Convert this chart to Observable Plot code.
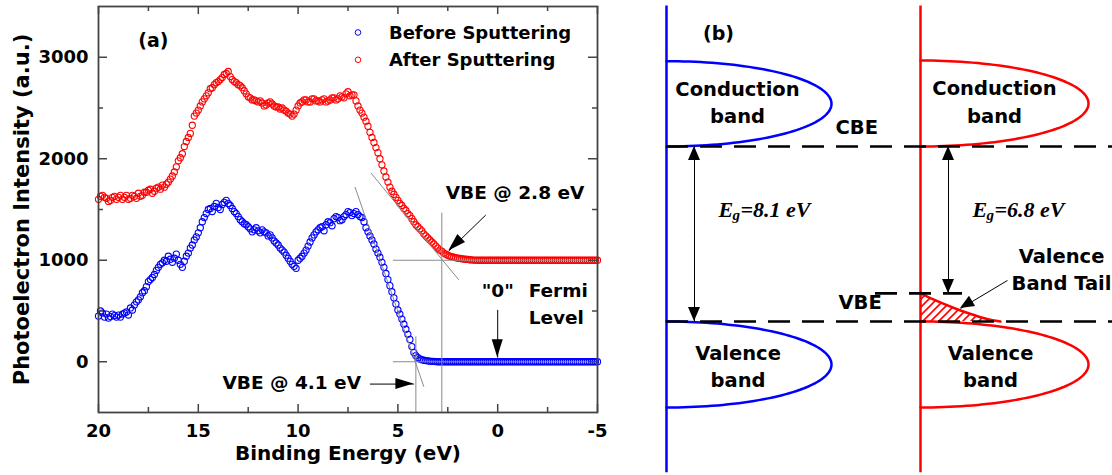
<!DOCTYPE html>
<html><head><meta charset="utf-8">
<script src="https://cdn.jsdelivr.net/npm/d3@7"></script>
<script src="https://cdn.jsdelivr.net/npm/@observablehq/plot@0.6"></script>
<style>
html,body{margin:0;padding:0;background:#fff;}
#wrap{display:flex;width:1112px;height:475px;overflow:hidden;}
</style></head><body><div id="wrap"></div>
<script>
// ---------- DATA: panel (a) ----------
const seriesNames = ["Before Sputtering", "After Sputtering"];
// intensity read every 0.1 eV from 20.0 eV down to -5.0 eV
const before = [
 450,500,480,440,470,430,445,470,455,440,
 460,440,470,480,490,460,530,510,560,590,
 610,640,680,700,740,790,810,830,860,900,
 930,960,975,1000,990,1040,1010,980,1020,1060,
 1000,960,930,990,1040,1070,1120,1150,1200,1230,
 1270,1320,1380,1420,1460,1500,1510,1480,1530,1560,
 1520,1500,1550,1570,1590,1560,1540,1510,1480,1460,
 1430,1400,1380,1360,1350,1330,1310,1280,1300,1320,
 1290,1270,1300,1280,1270,1240,1250,1220,1190,1170,
 1150,1120,1100,1080,1050,1020,990,960,940,920,
 1000,1020,1040,1070,1100,1140,1180,1220,1250,1280,
 1300,1320,1330,1290,1350,1380,1370,1340,1410,1430,
 1420,1390,1400,1430,1450,1480,1470,1440,1460,1480,
 1450,1430,1420,1380,1320,1280,1240,1200,1160,1110,
 1070,1030,980,930,870,810,750,690,630,570,
 510,470,420,370,320,270,220,150,90,60,
 40,28,20,15,12,9,6,4,3,2,
 0,0,0,0,0,0,0,0,0,0,
 0,0,0,0,0,0,0,0,0,0,
 0,0,0,0,0,0,0,0,0,0,
 0,0,0,0,0,0,0,0,0,0,
 0,0,0,0,0,0,0,0,0,0,
 0,0,0,0,0,0,0,0,0,0,
 0,0,0,0,0,0,0,0,0,0,
 0,0,0,0,0,0,0,0,0,0,
 0
];
const after = [
 1600,1630,1640,1620,1610,1580,1590,1620,1630,1600,
 1620,1640,1600,1620,1640,1600,1610,1640,1630,1610,
 1660,1630,1640,1670,1670,1690,1700,1660,1680,1710,
 1720,1700,1740,1720,1750,1770,1800,1830,1870,1920,
 1980,2010,2050,2120,2170,2210,2250,2330,2420,2450,
 2480,2520,2560,2590,2620,2650,2690,2700,2730,2750,
 2760,2780,2800,2830,2840,2860,2810,2780,2760,2750,
 2730,2720,2700,2670,2640,2610,2600,2580,2580,2570,
 2560,2570,2550,2520,2530,2550,2560,2540,2520,2510,
 2510,2490,2500,2480,2470,2450,2440,2420,2440,2480,
 2520,2550,2560,2580,2580,2560,2560,2590,2590,2570,
 2570,2560,2580,2590,2560,2570,2580,2600,2600,2580,
 2590,2620,2610,2600,2640,2660,2620,2630,2630,2570,
 2520,2480,2450,2410,2370,2320,2260,2210,2160,2110,
 2060,2000,1940,1880,1820,1770,1720,1680,1650,1620,
 1590,1560,1540,1510,1490,1460,1440,1410,1380,1350,
 1330,1310,1290,1260,1240,1220,1200,1180,1160,1140,
 1120,1100,1090,1070,1060,1050,1040,1035,1030,1025,
 1020,1018,1015,1012,1010,1008,1005,1003,1002,1001,
 1000,1000,1000,1000,1000,1000,1000,1000,1000,1000,
 1000,1000,1000,1000,1000,1000,1000,1000,1000,1000,
 1000,1000,1000,1000,1000,1000,1000,1000,1000,1000,
 1000,1000,1000,1000,1000,1000,1000,1000,1000,1000,
 1000,1000,1000,1000,1000,1000,1000,1000,1000,1000,
 1000,1000,1000,1000,1000,1000,1000,1000,1000,1000,
 1000
];
const energy = before.map((_, i) => Math.round(200 - i) / 10);
const xTicks = [20, 15, 10, 5, 0, -5];
const xMinorTicks = [17.5, 12.5, 7.5, 2.5, -2.5];
const yTicks = [0, 1000, 2000, 3000];
const yMinorTicks = [500, 1500, 2500];
const vbeValues = ["2.8", "4.1"];
// guide lines (eV, intensity)
const guides = [
 {x1: 5.25, y1: 1000, x2: -5, y2: 1000},
 {x1: 5.25, y1: 0, x2: -5, y2: 0},
 {x1: 2.8, y1: 1470, x2: 2.8, y2: -500},
 {x1: 4.1, y1: 250, x2: 4.1, y2: -500},
 {x1: 6.35, y1: 1860, x2: 1.95, y2: 807},
 {x1: 7.15, y1: 1722, x2: 3.7, y2: -246}
];
const arrowsA = [
 {x1: 0.6, y1: 1445, x2: 2.45, y2: 1091},
 {x1: 6.4, y1: -220, x2: 4.2, y2: -220},
 {x1: 0, y1: 511, x2: 0, y2: 40}
];

// ---------- DATA: panel (b) ----------
const gapValues = ["8.1", "6.8"];
const bandLabels = ["Conduction", "band", "Valence", "band"];
const bands = [
 {id: "cb1", color: "#0000ff", x0: 54, rx: 165, top: 12.05, bottom: 8.1},
 {id: "vb1", color: "#0000ff", x0: 54, rx: 165, top: 0, bottom: -3.98},
 {id: "cb2", color: "#ff0000", x0: 308, rx: 168, top: 12.08, bottom: 8.1},
 {id: "vb2", color: "#ff0000", x0: 308, rx: 168, top: 0, bottom: -3.98}
];
const tailCurve = [
 {x: 308, E: 1.3}, {x: 314, E: 1.17}, {x: 322, E: 1.0}, {x: 332, E: 0.8},
 {x: 344, E: 0.58}, {x: 356, E: 0.38}, {x: 368, E: 0.2}, {x: 380, E: 0.06}, {x: 388, E: 0}
];
const levels = [
 {E: 8.1, x1: 54, x2: 500},
 {E: 0, x1: 54, x2: 500},
 {E: 1.3, x1: 263, x2: 350}
];
const arrowsB = [
 {x1: 82, y1: 4, x2: 82, y2: 8.1},
 {x1: 82, y1: 4, x2: 82, y2: 0},
 {x1: 336, y1: 4.7, x2: 336, y2: 8.1},
 {x1: 336, y1: 4.7, x2: 336, y2: 1.3},
 {x1: 395, y1: 1.9, x2: 348, y2: 0.6}
];

// ---------- helpers ----------
const BLUE = "#0000ff", RED = "#ff0000";
const SANS = "'DejaVu Sans', 'Liberation Sans', sans-serif";
const SERIF = "'Liberation Serif', 'DejaVu Serif', serif";

function heads(list, len, half) {
  return (index, scales) => {
    const g = d3.create("svg:g");
    for (const a of list) {
      const x1 = scales.x(a.x1), y1 = scales.y(a.y1), x2 = scales.x(a.x2), y2 = scales.y(a.y2);
      const dx = x2 - x1, dy = y2 - y1, d = Math.hypot(dx, dy), ux = dx / d, uy = dy / d;
      const bx = x2 - ux * len, by = y2 - uy * len;
      g.append("path")
        .attr("d", `M${x2},${y2}L${bx - uy * half},${by + ux * half}L${bx + uy * half},${by - ux * half}Z`)
        .attr("fill", "#000");
    }
    return g.node();
  };
}

const spectra = [
  ...before.map((v, i) => ({series: seriesNames[0], e: energy[i], v})),
  ...after.map((v, i) => ({series: seriesNames[1], e: energy[i], v}))
];

// ---------- panel (a) ----------
const svgA = Plot.plot({
  width: 612, height: 475,
  marginLeft: 98, marginRight: 15, marginTop: 6, marginBottom: 63,
  style: {fontFamily: SANS, fontWeight: "bold", fontSize: "18px", color: "#000", background: "#fff", overflow: "visible"},
  x: {domain: [20, -5], label: null},
  y: {domain: [-500, 3500], label: null},
  marks: [
    Plot.dot(spectra.filter(d => d.series === seriesNames[0]), {x: "e", y: "v", r: 3.1, stroke: BLUE, strokeWidth: 1.1, fill: "none"}),
    Plot.dot(spectra.filter(d => d.series === seriesNames[1]), {x: "e", y: "v", r: 3.1, stroke: RED, strokeWidth: 1.1, fill: "none"}),
    Plot.link(guides, {x1: "x1", y1: "y1", x2: "x2", y2: "y2", stroke: "#8a8a8a", strokeWidth: 1}),
    Plot.link(arrowsA, {x1: "x1", y1: "y1", x2: "x2", y2: "y2", stroke: "#000", strokeWidth: 1}),
    heads(arrowsA, 18, 5.5),
    // ticks (inward)
    Plot.tickX(xTicks, {x: d => d, insetTop: 398, stroke: "#444", strokeWidth: 1.5}),
    Plot.tickX(xTicks, {x: d => d, insetBottom: 398, stroke: "#444", strokeWidth: 1.5}),
    Plot.tickX(xMinorTicks, {x: d => d, insetTop: 401, stroke: "#444", strokeWidth: 1.5}),
    Plot.tickX(xMinorTicks, {x: d => d, insetBottom: 401, stroke: "#444", strokeWidth: 1.5}),
    Plot.tickY(yTicks, {y: d => d, insetRight: 490, stroke: "#444", strokeWidth: 1.5}),
    Plot.tickY(yTicks, {y: d => d, insetLeft: 490, stroke: "#444", strokeWidth: 1.5}),
    Plot.tickY(yMinorTicks, {y: d => d, insetRight: 494, stroke: "#444", strokeWidth: 1.5}),
    Plot.tickY(yMinorTicks, {y: d => d, insetLeft: 494, stroke: "#444", strokeWidth: 1.5}),
    Plot.axisX({ticks: xTicks, tickSize: 0, tickPadding: 12, tickFormat: d => String(d), label: null, fontSize: 18}),
    Plot.axisY({ticks: yTicks, tickSize: 0, tickPadding: 10, tickFormat: d => String(d), label: null, fontSize: 18}),
    Plot.frame({stroke: "#444", strokeWidth: 1.8}),
    // titles
    Plot.text(["Binding Energy (eV)"], {frameAnchor: "bottom", dy: 47, text: d => d, fontSize: 20}),
    Plot.text(["Photoelectron Intensity (a.u.)"], {frameAnchor: "left", textAnchor: "middle", dx: -76, rotate: -90, text: d => d, fontSize: 21}),
    // annotations
    Plot.text(["(a)"], {x: 17.25, y: 3165, text: d => d, fontSize: 19}),
    Plot.dot([seriesNames[0]], {x: 7.0, y: 3244, r: 2.8, stroke: BLUE, strokeWidth: 1}),
    Plot.dot([seriesNames[1]], {x: 7.0, y: 2975, r: 2.8, stroke: RED, strokeWidth: 1}),
    Plot.text([seriesNames[0]], {x: 5.45, y: 3234, text: d => d, textAnchor: "start", fontSize: 18}),
    Plot.text([seriesNames[1]], {x: 5.45, y: 2969, text: d => d, textAnchor: "start", fontSize: 18}),
    Plot.text([`VBE @ ${vbeValues[0]} eV`], {x: 2.6, y: 1661, text: d => d, textAnchor: "start", fontSize: 18.5}),
    Plot.text([`VBE @ ${vbeValues[1]} eV`], {x: 6.85, y: -211, text: d => d, textAnchor: "end", fontSize: 18.5}),
    Plot.text(['"0"'], {x: 0.8, y: 693, text: d => d, textAnchor: "start", fontSize: 18.5}),
    Plot.text(["Fermi"], {x: -1.55, y: 693, text: d => d, textAnchor: "start", fontSize: 18.5}),
    Plot.text(["Level"], {x: -1.55, y: 428, text: d => d, textAnchor: "start", fontSize: 18.5})
  ]
});

// ---------- panel (b) ----------
const ellipsePts = bands.flatMap(b => {
  const cy = (b.top + b.bottom) / 2, ry = (b.top - b.bottom) / 2;
  return d3.range(-90, 91, 2).map(deg => {
    const t = deg * Math.PI / 180;
    return {id: b.id, color: b.color, x: b.x0 + b.rx * Math.cos(t), E: cy - ry * Math.sin(t)};
  });
});

const svgB = Plot.plot({
  width: 500, height: 475,
  marginLeft: 0, marginRight: 0, marginTop: 0, marginBottom: 0,
  style: {fontFamily: SANS, fontWeight: "bold", fontSize: "19.5px", color: "#000", background: "#fff", overflow: "visible"},
  x: {domain: [0, 500], axis: null},
  y: {domain: [-7.128, 14.858], axis: null},
  color: {type: "identity"},
  marks: [
    Plot.areaY(tailCurve, {x: "x", y1: 0, y2: "E", fill: "url(#tailHatch)", curve: "monotone-x"}),
    Plot.line(ellipsePts, {x: "x", y: "E", z: "id", stroke: "color", strokeWidth: 2.5}),
    Plot.line(tailCurve, {x: "x", y: "E", stroke: RED, strokeWidth: 2.5, curve: "monotone-x"}),
    Plot.ruleX([54], {y1: -7.0, y2: 14.6, stroke: BLUE, strokeWidth: 2.5}),
    Plot.ruleX([308], {y1: -7.0, y2: 14.6, stroke: RED, strokeWidth: 2.5}),
    Plot.ruleY(levels, {y: "E", x1: "x1", x2: "x2", stroke: "#000", strokeWidth: 2.6, strokeDasharray: "22,12"}),
    Plot.link(arrowsB, {x1: "x1", y1: "y1", x2: "x2", y2: "y2", stroke: "#000", strokeWidth: 1}),
    heads(arrowsB, 14, 6),
    Plot.text(["(b)"], {x: 106, y: 13.33, text: d => d, fontSize: 19}),
    Plot.text([bandLabels[0]], {x: 125, y: 10.74, text: d => d}),
    Plot.text([bandLabels[1]], {x: 125, y: 9.49, text: d => d}),
    Plot.text([bandLabels[0]], {x: 382, y: 10.76, text: d => d}),
    Plot.text([bandLabels[1]], {x: 382, y: 9.49, text: d => d}),
    Plot.text([bandLabels[2]], {x: 125.5, y: -1.48, text: d => d}),
    Plot.text([bandLabels[3]], {x: 125.5, y: -2.73, text: d => d}),
    Plot.text([bandLabels[2]], {x: 378, y: -1.48, text: d => d}),
    Plot.text([bandLabels[3]], {x: 378, y: -2.73, text: d => d}),
    Plot.text(["CBE"], {x: 223, y: 8.95, text: d => d, textAnchor: "start"}),
    Plot.text(["VBE"], {x: 226, y: 0.86, text: d => d, textAnchor: "start"}),
    Plot.text(["Valence"], {x: 449, y: 3.01, text: d => d}),
    Plot.text(["Band Tail"], {x: 449, y: 1.76, text: d => d}),
    // E_g labels
    Plot.text(["E", "E"], {x: [106, 360], y: [5.18, 5.18], text: d => d, textAnchor: "start", fontFamily: SERIF, fontStyle: "italic", fontWeight: "bold", fontSize: 22}),
    Plot.text(["g", "g"], {x: [106, 360], y: [5.18, 5.18], text: d => d, textAnchor: "start", dx: 14, dy: 6, fontFamily: SERIF, fontStyle: "italic", fontWeight: "bold", fontSize: 15}),
    Plot.text(gapValues.map(v => `=${v} eV`), {x: [106, 360], y: [5.18, 5.18], text: d => d, textAnchor: "start", dx: 22, fontFamily: SERIF, fontStyle: "italic", fontWeight: "bold", fontSize: 22})
  ]
});

// hatch pattern for the valence band tail
const defs = d3.select(svgB).insert("svg:defs", ":first-child");
const pat = defs.append("svg:pattern").attr("id", "tailHatch").attr("patternUnits", "userSpaceOnUse")
  .attr("width", 8).attr("height", 8);
pat.append("svg:path").attr("d", "M-2,2L2,-2M0,8L8,0M6,10L10,6").attr("stroke", RED).attr("stroke-width", 1.6);

document.getElementById("wrap").append(svgA, svgB);
</script>
</body></html>
